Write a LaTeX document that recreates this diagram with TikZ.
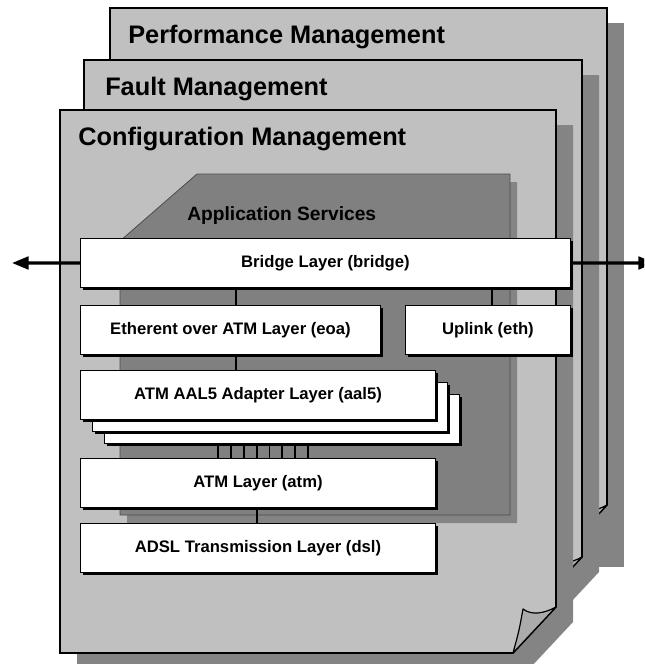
\documentclass[tikz,border=0pt]{standalone}
\usepackage{fontspec}
\setmainfont{Liberation Sans}
\usetikzlibrary{shadows, arrows.meta}

\definecolor{sheetgray}{HTML}{C0C0C0}
\definecolor{shadegray}{HTML}{848484}
\definecolor{panelgray}{HTML}{808080}
\definecolor{curlgray}{HTML}{ABABAB}

% one drawing unit = one screen pixel
\newlength{\pxu}
\setlength{\pxu}{0.75pt}

\tikzset{
  sheet/.style={draw, fill=sheetgray, line width=1.2pt},
  sheetshade/.style={fill=shadegray},
  curl/.style={draw, fill=curlgray, line width=0.9pt, line join=round},
  panel/.style={draw=black!70, fill=panelgray, line width=0.6pt},
  title/.style={anchor=base west, inner sep=0pt, font=\bfseries\fontsize{19}{22}\selectfont},
  layer/.style={draw, fill=white, line width=0.7pt, anchor=north west, minimum width=355\pxu, minimum height=49\pxu, inner sep=0pt, font=\bfseries\fontsize{12.5}{15}\selectfont, drop shadow={shadow xshift=1.6pt, shadow yshift=-1.6pt, fill=black, opacity=1}},
  link/.style={line width=1.4pt},
  io/.style={line width=2.3pt, -{Triangle[length=12.5pt, width=9.5pt]}}
}

% page with folded bottom-right corner: left, top, right, bottom
\newcommand{\mgmtsheet}[4]{%
  \draw[sheet] (#1,#2) -- (#3,#2) -- (#3,#4-46) -- (#3-43,#4) -- (#1,#4) -- cycle;
  \draw[curl] (#3-43,#4) .. controls (#3-37,#4-22) .. (#3-33,#4-44)
    .. controls (#3-24,#4-37) and (#3-11,#4-40) .. (#3,#4-46) -- cycle;
}
% its shadow, same outline moved down and right
\newcommand{\sheetshadow}[4]{%
  \fill[sheetshade] (#1+17,#2+15) -- (#3+17,#2+15) -- (#3+17,#4-31) -- (#3-26,#4+15) -- (#1+17,#4+15) -- cycle;
}

\begin{document}
\begin{tikzpicture}[x=0.75pt, y=-0.75pt]
\useasboundingbox (0,0) rectangle (644,664);
\clip (0,0) rectangle (644,664);

% management sheets, back to front
\fill[sheetshade] (127,23) rectangle (624,567);
\mgmtsheet{110}{8}{607}{551}
\sheetshadow{84}{60}{582}{603}
\mgmtsheet{84}{60}{582}{603}
\sheetshadow{60}{110}{556}{653}
\mgmtsheet{60}{110}{556}{653}

\node[title] (perf) at (128,43) {Performance Management};
\node[title] (fault) at (105,95) {Fault Management};
\node[title] (config) at (78,145) {Configuration Management};

% application services panel
\fill[sheetshade] (204,182) -- (517,182) -- (517,523) -- (127,523) -- (127,249) -- cycle;
\draw[panel] (197,174) -- (510,174) -- (510,515) -- (120,515) -- (120,241) -- cycle;
\node[anchor=base west, inner sep=0pt, font=\bfseries\fontsize{14.4}{17}\selectfont] (apps) at (187,220) {Application Services};

% layers
\node[layer, minimum width=490\pxu] (bridge) at (80,238) {Bridge Layer (bridge)};
\node[layer, minimum width=300\pxu] (eoa) at (80,305) {Etherent over ATM Layer (eoa)};
\node[layer, minimum width=165\pxu] (uplink) at (405,305) {Uplink (eth)};
\node[layer] (aal5c) at (104,394) {};
\node[layer] (aal5b) at (92,382) {};
\node[layer] (aal5) at (80,370) {ATM AAL5 Adapter Layer (aal5)};
\node[layer] (atm) at (80,458) {ATM Layer (atm)};
\node[layer] (dsl) at (80,523) {ADSL Transmission Layer (dsl)};

% bridge ports
\coordinate (westend) at (12,263);
\coordinate (eastend) at (655,263);
\draw[io] (bridge.west) -- (westend);
\draw[io] (bridge.east) -- (eastend);

% connections between layers
\coordinate (eoatap) at (236,0);
\coordinate (ethtap) at (492,0);
\coordinate (dsltap) at (257,0);
\draw[link] (bridge.south -| eoatap) -- (eoa.north -| eoatap);
\draw[link] (bridge.south -| ethtap) -- (uplink.north -| ethtap);
\draw[link] (eoa.south -| eoatap) -- (aal5.north -| eoatap);
\foreach \i in {0,...,7}{
  \coordinate (vc\i) at (218+12.86*\i,0);
  \draw[link] (aal5c.south -| vc\i) -- (atm.north -| vc\i);
}
\draw[link] (atm.south -| dsltap) -- (dsl.north -| dsltap);

\end{tikzpicture}
\end{document}
